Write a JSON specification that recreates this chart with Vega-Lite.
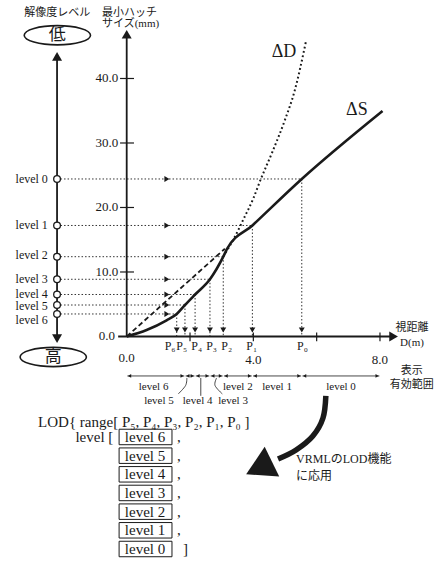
{
"$schema":"https://vega.github.io/schema/vega-lite/v6.json",
"width":442,"height":567,"padding":0,
"autosize":{"type":"fit","contains":"padding"},
"background":"white",
"config":{"view":{"stroke":null},"text":{"font":"Liberation Serif, Noto Sans CJK JP","color":"#1a1a1a","baseline":"middle"}},
"datasets":{
"axesR":[{"x":0,"y":0,"x2":0,"y2":46.6},{"x":-0.27,"y":0,"x2":8.41,"y2":0},{"x":-2.2,"y":-0.23,"x2":-2.2,"y2":43.2}],
"ticksR":[{"x":-0.21,"y":10,"x2":0.23,"y2":10},{"x":-0.21,"y":20,"x2":0.23,"y2":20},{"x":-0.21,"y":30,"x2":0.23,"y2":30},{"x":-0.21,"y":40,"x2":0.23,"y2":40},{"x":2,"y":0.6,"x2":2,"y2":-0.75},{"x":4,"y":0.6,"x2":4,"y2":-0.75},{"x":6,"y":0.6,"x2":6,"y2":-0.75},{"x":8,"y":0.6,"x2":8,"y2":-0.75}],
"dotsH":[{"x":-2.2,"x2":5.53,"y":24.42},{"x":-2.2,"x2":3.97,"y":17.21},{"x":-2.2,"x2":3.05,"y":12.37},{"x":-2.2,"x2":2.63,"y":8.87},{"x":-2.2,"x2":2.16,"y":6.51},{"x":-2.2,"x2":1.84,"y":4.88},{"x":-2.2,"x2":1.58,"y":3.49}],
"dotsV":[{"x":5.53,"y":24.42,"y2":0},{"x":3.97,"y":17.21,"y2":0},{"x":3.05,"y":12.37,"y2":0},{"x":2.63,"y":8.87,"y2":0},{"x":2.16,"y":6.51,"y2":0},{"x":1.84,"y":4.88,"y2":0},{"x":1.58,"y":3.49,"y2":0}],
"circles":[{"x":-2.2,"y":24.42},{"x":-2.2,"y":17.21},{"x":-2.2,"y":12.37},{"x":-2.2,"y":8.87},{"x":-2.2,"y":6.51},{"x":-2.2,"y":4.88},{"x":-2.2,"y":3.49}],
"heads":[
{"x":0,"y":46.86,"dir":"up","grp":"axis"},{"x":8.43,"y":0,"dir":"right","grp":"axis"},{"x":-2.2,"y":43.44,"dir":"up","grp":"axis"},{"x":-2.2,"y":-0.34,"dir":"down","grp":"axis"},
{"x":1.27,"y":24.42,"dir":"right","grp":"level"},{"x":1.27,"y":17.21,"dir":"right","grp":"level"},{"x":1.27,"y":12.37,"dir":"right","grp":"level"},{"x":1.27,"y":8.87,"dir":"right","grp":"level"},{"x":1.27,"y":6.51,"dir":"right","grp":"level"},{"x":1.27,"y":4.88,"dir":"right","grp":"level"},{"x":1.27,"y":3.49,"dir":"right","grp":"level"},
{"x":5.53,"y":1.0,"dir":"down","grp":"level"},{"x":3.97,"y":1.0,"dir":"down","grp":"level"},{"x":3.05,"y":1.0,"dir":"down","grp":"level"},{"x":2.63,"y":1.0,"dir":"down","grp":"level"},{"x":2.16,"y":1.0,"dir":"down","grp":"level"},{"x":1.84,"y":1.0,"dir":"down","grp":"level"},{"x":1.58,"y":1.0,"dir":"down","grp":"level"},
{"x":0.09,"y":-6.12,"dir":"left","grp":"range"},{"x":1.93,"y":-6.12,"dir":"left","grp":"range"},{"x":2.25,"y":-6.12,"dir":"left","grp":"range"},{"x":2.72,"y":-6.12,"dir":"left","grp":"range"},{"x":3.14,"y":-6.12,"dir":"left","grp":"range"},{"x":4.06,"y":-6.12,"dir":"left","grp":"range"},{"x":5.62,"y":-6.12,"dir":"left","grp":"range"},
{"x":1.75,"y":-6.12,"dir":"right","grp":"range"},{"x":2.07,"y":-6.12,"dir":"right","grp":"range"},{"x":2.54,"y":-6.12,"dir":"right","grp":"range"},{"x":2.96,"y":-6.12,"dir":"right","grp":"range"},{"x":3.88,"y":-6.12,"dir":"right","grp":"range"},{"x":5.44,"y":-6.12,"dir":"right","grp":"range"},{"x":7.91,"y":-6.12,"dir":"right","grp":"range"}
],
"curves":[
{"c":"S","x":0,"y":0},{"c":"S","x":0.63,"y":1.0},{"c":"S","x":1.26,"y":2.5},{"c":"S","x":1.58,"y":3.49},{"c":"S","x":1.84,"y":4.88},{"c":"S","x":2.16,"y":6.51},{"c":"S","x":2.63,"y":8.87},{"c":"S","x":3.05,"y":12.37},{"c":"S","x":3.16,"y":13.5},{"c":"S","x":3.97,"y":17.21},{"c":"S","x":5.53,"y":24.42},{"c":"S","x":8.08,"y":34.96},
{"c":"dash","x":0,"y":0},{"c":"dash","x":3.1,"y":13.6},
{"c":"D","x":3.05,"y":12.4},{"c":"D","x":3.4,"y":15.3},{"c":"D","x":3.7,"y":18.3},{"c":"D","x":4.0,"y":21.4},{"c":"D","x":4.22,"y":24.2},{"c":"D","x":4.6,"y":28.6},{"c":"D","x":5.0,"y":33.6},{"c":"D","x":5.3,"y":38.0},{"c":"D","x":5.66,"y":45.7}
],
"ranges":[{"x":0.02,"x2":1.82,"y":-6.12},{"x":1.86,"x2":2.14,"y":-6.12},{"x":2.18,"x2":2.61,"y":-6.12},{"x":2.65,"x2":3.03,"y":-6.12},{"x":3.07,"x2":3.95,"y":-6.12},{"x":3.99,"x2":5.51,"y":-6.12},{"x":5.55,"x2":7.98,"y":-6.12}],
"leaders":[
{"g":"5","i":0,"x":1.9,"y":-6.43},{"g":"5","i":1,"x":1.86,"y":-7.6},{"g":"5","i":2,"x":1.63,"y":-8.9},
{"g":"4","i":0,"x":2.34,"y":-6.43},{"g":"4","i":1,"x":2.34,"y":-9.2},
{"g":"3","i":0,"x":2.84,"y":-6.43},{"g":"3","i":1,"x":2.79,"y":-7.6},{"g":"3","i":2,"x":3.02,"y":-8.9}
],
"boxes":[{"x":-0.24,"x2":1.43,"y":-14.38,"y2":-16.78},{"x":-0.24,"x2":1.43,"y":-17.28,"y2":-19.68},{"x":-0.24,"x2":1.43,"y":-20.17,"y2":-22.57},{"x":-0.24,"x2":1.43,"y":-23.06,"y2":-25.46},{"x":-0.24,"x2":1.43,"y":-25.96,"y2":-28.36},{"x":-0.24,"x2":1.43,"y":-28.85,"y2":-31.25},{"x":-0.24,"x2":1.43,"y":-31.75,"y2":-34.15}],
"ellipses":[{"x":-2.19,"y":46.7},{"x":-2.32,"y":-3.18}],
"bigarrow":[{"i":0,"x":6.29,"y":-9.22},{"i":1,"x":6.2,"y":-12.64},{"i":2,"x":5.88,"y":-15.43},{"i":3,"x":5.35,"y":-17.6},{"i":4,"x":4.78,"y":-19.0}],
"bighead":[{"x":4.18,"y":-20.39}],
"labels":[
{"t":"40.0","x":-0.27,"y":40,"r":"ytick"},{"t":"30.0","x":-0.27,"y":30,"r":"ytick"},{"t":"20.0","x":-0.27,"y":20,"r":"ytick"},{"t":"10.0","x":-0.27,"y":10,"r":"ytick"},{"t":"0.0","x":-0.37,"y":0,"r":"ytick"},
{"t":"level 0","x":-2.49,"y":24.42,"r":"lvl"},{"t":"level 1","x":-2.49,"y":17.21,"r":"lvl"},{"t":"level 2","x":-2.49,"y":12.56,"r":"lvl"},{"t":"level 3","x":-2.49,"y":8.91,"r":"lvl"},{"t":"level 4","x":-2.49,"y":6.61,"r":"lvl"},{"t":"level 5","x":-2.49,"y":4.65,"r":"lvl"},{"t":"level 6","x":-2.49,"y":2.6,"r":"lvl"},
{"t":"最小ハッチ","x":-0.78,"y":50.16,"r":"head2"},{"t":"サイズ(mm)","x":-0.78,"y":48.45,"r":"head2"},
{"t":"LOD{ range[ P₅, P₄, P₃, P₂, P₁, P₀ ]","x":-2.8,"y":-13.25,"r":"code"},{"t":"level [","x":-1.62,"y":-15.58,"r":"code"},
{"t":",","x":1.59,"y":-15.58,"r":"code"},{"t":",","x":1.59,"y":-18.48,"r":"code"},{"t":",","x":1.59,"y":-21.37,"r":"code"},{"t":",","x":1.59,"y":-24.26,"r":"code"},{"t":",","x":1.59,"y":-27.16,"r":"code"},{"t":",","x":1.59,"y":-30.05,"r":"code"},{"t":"]","x":1.78,"y":-32.95,"r":"code"},
{"t":"VRMLのLOD機能","x":5.35,"y":-18.99,"r":"note"},{"t":"に応用","x":5.35,"y":-21.63,"r":"note"},
{"t":"解像度レベル","x":-2.19,"y":50.16,"r":"head"},{"t":"低","x":-2.19,"y":46.7,"r":"big"},{"t":"高","x":-2.32,"y":-3.18,"r":"big"},
{"t":"ΔD","x":4.97,"y":44.1,"r":"delta"},{"t":"ΔS","x":7.27,"y":35.1,"r":"delta"},
{"t":"0.0","x":0,"y":-3.33,"r":"xtick"},{"t":"4.0","x":4,"y":-3.64,"r":"xtick"},{"t":"8.0","x":8,"y":-3.64,"r":"xtick"},
{"t":"P₆","x":1.37,"y":-1.47,"r":"p"},{"t":"P₅","x":1.74,"y":-1.47,"r":"p"},{"t":"P₄","x":2.21,"y":-1.47,"r":"p"},{"t":"P₃","x":2.68,"y":-1.47,"r":"p"},{"t":"P₂","x":3.16,"y":-1.47,"r":"p"},{"t":"P₁","x":3.95,"y":-1.47,"r":"p"},{"t":"P₀","x":5.55,"y":-1.47,"r":"p"},
{"t":"視距離","x":9.01,"y":1.32,"r":"axlab"},{"t":"D(m)","x":9.01,"y":-1.0,"r":"axlab"},{"t":"表示","x":9.0,"y":-5.35,"r":"axlab"},{"t":"有効範囲","x":9.0,"y":-7.52,"r":"axlab"},
{"t":"level 6","x":0.85,"y":-7.83,"r":"rng"},{"t":"level 2","x":3.51,"y":-7.83,"r":"rng"},{"t":"level 1","x":4.75,"y":-7.83,"r":"rng"},{"t":"level 0","x":6.77,"y":-7.83,"r":"rng"},{"t":"level 5","x":1.02,"y":-10.0,"r":"rng"},{"t":"level 4","x":2.24,"y":-10.0,"r":"rng"},{"t":"level 3","x":3.36,"y":-10.0,"r":"rng"},
{"t":"level 6","x":0.58,"y":-15.58,"r":"box"},{"t":"level 5","x":0.58,"y":-18.48,"r":"box"},{"t":"level 4","x":0.58,"y":-21.37,"r":"box"},{"t":"level 3","x":0.58,"y":-24.26,"r":"box"},{"t":"level 2","x":0.58,"y":-27.16,"r":"box"},{"t":"level 1","x":0.58,"y":-30.05,"r":"box"},{"t":"level 0","x":0.58,"y":-32.95,"r":"box"}
]
},
"encoding":{
"x":{"field":"x","type":"quantitative","scale":{"domain":[-4.002,9.959],"nice":false,"zero":false},"axis":null},
"y":{"field":"y","type":"quantitative","scale":{"domain":[-35.74,52.17],"nice":false,"zero":false},"axis":null}
},
"resolve":{"scale":{"shape":"independent"}},
"layer":[
{"data":{"name":"dotsH"},"mark":{"type":"rule","color":"#333","strokeWidth":1,"strokeDash":[1.5,2]},"encoding":{"x2":{"field":"x2"}}},
{"data":{"name":"dotsV"},"mark":{"type":"rule","color":"#333","strokeWidth":1,"strokeDash":[1.5,2]},"encoding":{"y2":{"field":"y2"}}},
{"data":{"name":"curves"},"transform":[{"filter":"datum.c === 'dash'"}],"mark":{"type":"line","color":"#1a1a1a","strokeWidth":1.8,"strokeDash":[5,3]},"encoding":{}},
{"data":{"name":"curves"},"transform":[{"filter":"datum.c === 'D'"}],"mark":{"type":"line","color":"#1a1a1a","strokeWidth":2,"strokeDash":[1.8,2.6],"interpolate":"monotone"},"encoding":{}},
{"data":{"name":"curves"},"transform":[{"filter":"datum.c === 'S'"}],"mark":{"type":"line","color":"#1a1a1a","strokeWidth":2.6,"interpolate":"monotone"},"encoding":{}},
{"data":{"name":"axesR"},"mark":{"type":"rule","color":"#1a1a1a","strokeWidth":1.8},"encoding":{"x2":{"field":"x2"},"y2":{"field":"y2"}}},
{"data":{"name":"ticksR"},"mark":{"type":"rule","color":"#1a1a1a","strokeWidth":1.2},"encoding":{"x2":{"field":"x2"},"y2":{"field":"y2"}}},
{"data":{"name":"ranges"},"mark":{"type":"rule","color":"#1a1a1a","strokeWidth":0.8},"encoding":{"x2":{"field":"x2"}}},
{"data":{"name":"leaders"},"mark":{"type":"line","color":"#1a1a1a","strokeWidth":0.8,"interpolate":"cardinal"},"encoding":{"detail":{"field":"g"},"order":{"field":"i"}}},
{"data":{"name":"circles"},"mark":{"type":"point","shape":"circle","size":45,"filled":true,"fill":"white","stroke":"#1a1a1a","strokeWidth":1.3,"opacity":1},"encoding":{}},
{"data":{"name":"heads"},"transform":[{"filter":"datum.grp === 'axis'"}],"mark":{"type":"point","filled":true,"color":"#1a1a1a","opacity":1,"strokeWidth":0,"size":100},"encoding":{"shape":{"field":"dir","type":"nominal","scale":{"domain":["up","down","left","right"],"range":["triangle-up","triangle-down","triangle-left","triangle-right"]},"legend":null}}},
{"data":{"name":"heads"},"transform":[{"filter":"datum.grp === 'level'"}],"mark":{"type":"point","filled":true,"color":"#1a1a1a","opacity":1,"strokeWidth":0,"size":35},"encoding":{"shape":{"field":"dir","type":"nominal","scale":{"domain":["up","down","left","right"],"range":["triangle-up","triangle-down","triangle-left","triangle-right"]},"legend":null}}},
{"data":{"name":"heads"},"transform":[{"filter":"datum.grp === 'range'"}],"mark":{"type":"point","filled":true,"color":"#1a1a1a","opacity":1,"strokeWidth":0,"size":14},"encoding":{"shape":{"field":"dir","type":"nominal","scale":{"domain":["up","down","left","right"],"range":["triangle-up","triangle-down","triangle-left","triangle-right"]},"legend":null}}},
{"data":{"name":"bigarrow"},"mark":{"type":"line","color":"#1a1a1a","strokeWidth":5.5,"interpolate":"cardinal"},"encoding":{"order":{"field":"i"}}},
{"data":{"name":"bighead"},"mark":{"type":"point","shape":"triangle-up","angle":244,"size":1100,"filled":true,"color":"#1a1a1a","opacity":1},"encoding":{}},
{"data":{"name":"boxes"},"mark":{"type":"rect","fill":"white","stroke":"#1a1a1a","strokeWidth":1},"encoding":{"x2":{"field":"x2"},"y2":{"field":"y2"}}},
{"data":{"name":"ellipses"},"mark":{"type":"point","shape":"M 1 0 C 1 0.16 0.5523 0.29 0 0.29 C -0.5523 0.29 -1 0.16 -1 0 C -1 -0.16 -0.5523 -0.29 0 -0.29 C 0.5523 -0.29 1 -0.16 1 0 Z","size":4400,"filled":true,"fill":"white","stroke":"#1a1a1a","strokeWidth":1.6,"opacity":1},"encoding":{}},
{"data":{"name":"labels"},"transform":[{"filter":"datum.r === 'ytick'"}],"mark":{"type":"text","align":"right","fontSize":13},"encoding":{"text":{"field":"t"}}},
{"data":{"name":"labels"},"transform":[{"filter":"datum.r === 'lvl'"}],"mark":{"type":"text","align":"right","fontSize":12},"encoding":{"text":{"field":"t"}}},
{"data":{"name":"labels"},"transform":[{"filter":"datum.r === 'head2'"}],"mark":{"type":"text","align":"left","fontSize":11},"encoding":{"text":{"field":"t"}}},
{"data":{"name":"labels"},"transform":[{"filter":"datum.r === 'code'"}],"mark":{"type":"text","align":"left","fontSize":15},"encoding":{"text":{"field":"t"}}},
{"data":{"name":"labels"},"transform":[{"filter":"datum.r === 'note'"}],"mark":{"type":"text","align":"left","fontSize":12},"encoding":{"text":{"field":"t"}}},
{"data":{"name":"labels"},"transform":[{"filter":"datum.r === 'head' || datum.r === 'axlab' || datum.r === 'rng'"}],"mark":{"type":"text","align":"center","fontSize":11},"encoding":{"text":{"field":"t"}}},
{"data":{"name":"labels"},"transform":[{"filter":"datum.r === 'big'"}],"mark":{"type":"text","align":"center","fontSize":17},"encoding":{"text":{"field":"t"}}},
{"data":{"name":"labels"},"transform":[{"filter":"datum.r === 'delta'"}],"mark":{"type":"text","align":"center","fontSize":18},"encoding":{"text":{"field":"t"}}},
{"data":{"name":"labels"},"transform":[{"filter":"datum.r === 'xtick'"}],"mark":{"type":"text","align":"center","fontSize":13},"encoding":{"text":{"field":"t"}}},
{"data":{"name":"labels"},"transform":[{"filter":"datum.r === 'p'"}],"mark":{"type":"text","align":"center","fontSize":12},"encoding":{"text":{"field":"t"}}},
{"data":{"name":"labels"},"transform":[{"filter":"datum.r === 'box'"}],"mark":{"type":"text","align":"center","fontSize":15},"encoding":{"text":{"field":"t"}}}
]
}
